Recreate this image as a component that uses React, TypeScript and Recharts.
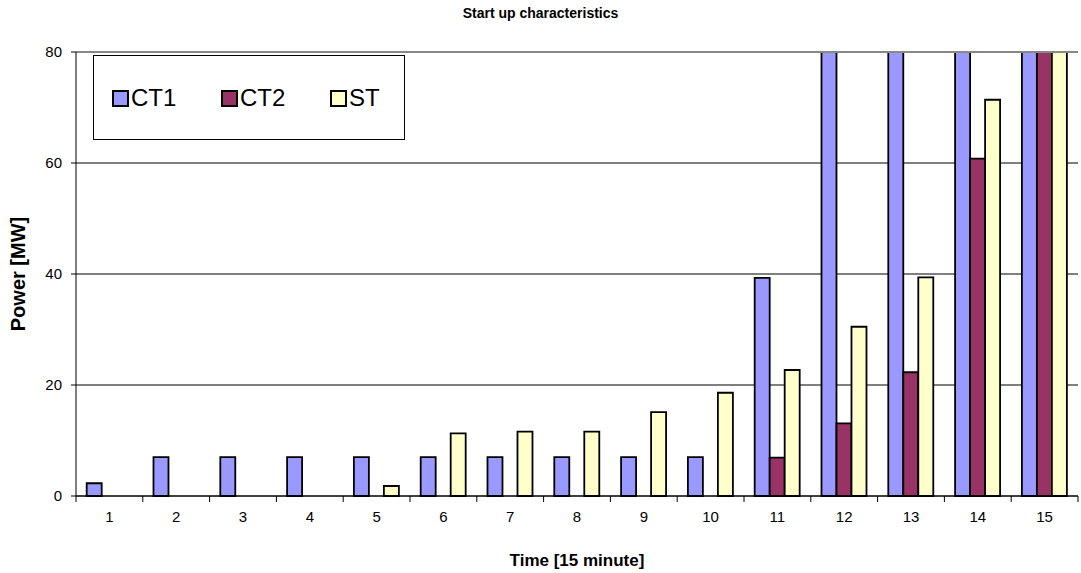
import { Bar, BarChart, CartesianGrid, ReferenceLine, XAxis, YAxis } from "recharts";

const periods = ["1", "2", "3", "4", "5", "6", "7", "8", "9", "10", "11", "12", "13", "14", "15"];
const ct1 = [2.3, 7, 7, 7, 7, 7, 7, 7, 7, 7, 39.3, 80, 80, 80, 80];
const ct2 = [0, 0, 0, 0, 0, 0, 0, 0, 0, 0, 6.9, 13.1, 22.3, 60.8, 80];
const st = [0, 0, 0, 0, 1.8, 11.3, 11.6, 11.6, 15.1, 18.6, 22.7, 30.5, 39.4, 71.4, 80];
const yTicks = [0, 20, 40, 60, 80];

const series = [
  { key: "CT1", values: ct1, color: "#9999ff" },
  { key: "CT2", values: ct2, color: "#993366" },
  { key: "ST", values: st, color: "#ffffcc" },
];

const data = periods.map((p, i) => ({ period: p, CT1: ct1[i], CT2: ct2[i], ST: st[i] }));

const font = "'Liberation Sans', Arial, sans-serif";
const plotWidth = 1002;
const halfBand = plotWidth / periods.length / 2;

function PeriodTick({ x, y, payload, index }: any) {
  const last = index === periods.length - 1;
  return (
    <g>
      <line x1={x - halfBand} x2={x - halfBand} y1={y} y2={y + 6} stroke="#000" />
      {last && <line x1={x + halfBand} x2={x + halfBand} y1={y} y2={y + 6} stroke="#000" />}
      <text x={x} y={y + 26} textAnchor="middle" fontSize={15} fontFamily={font} fill="#000">
        {payload.value}
      </text>
    </g>
  );
}

function LegendBox() {
  return (
    <div
      style={{
        position: "absolute",
        left: 93,
        top: 55,
        width: 312,
        height: 85,
        border: "1px solid #000",
        background: "#fff",
        boxSizing: "border-box",
        fontFamily: font,
        fontSize: 24,
      }}
    >
      {series.map((s, i) => (
        <div key={s.key} style={{ position: "absolute", left: 18 + i * 109, top: 28, display: "flex", alignItems: "center", lineHeight: "28px" }}>
          <span style={{ width: 13, height: 13, background: s.color, border: "2px solid #000", marginRight: 2, display: "inline-block" }} />
          {s.key}
        </div>
      ))}
    </div>
  );
}

export default function App() {
  return (
    <div style={{ position: "absolute", left: 0, top: 0, width: 1081, height: 573, background: "#fff", fontFamily: font }}>
      <BarChart
        width={1081}
        height={573}
        data={data}
        margin={{ top: 52, right: 3, bottom: 47, left: 36 }}
        barCategoryGap="16%"
        barGap={0}
      >
        <CartesianGrid vertical={false} stroke="#000" strokeWidth={1} />
        <XAxis
          dataKey="period"
          height={30}
          tick={<PeriodTick />}
          tickLine={false}
          tickSize={0}
          tickMargin={0}
          axisLine={{ stroke: "#000" }}
          interval={0}
        />
        <YAxis
          domain={[0, 80]}
          ticks={yTicks}
          width={40}
          tick={{ fontSize: 15, fill: "#000", fontFamily: font }}
          tickLine={{ stroke: "#000" }}
          tickSize={5}
          tickMargin={9}
          axisLine={{ stroke: "#000" }}
        />
        <ReferenceLine y={80} stroke="#888" strokeWidth={2} />
        {series.map((s) => (
          <Bar key={s.key} dataKey={s.key} fill={s.color} stroke="#000" strokeWidth={1.8} isAnimationActive={false} />
        ))}
      </BarChart>
      <div style={{ position: "absolute", top: 5, width: 1081, textAlign: "center", fontWeight: "bold", fontSize: 14 }}>
        Start up characteristics
      </div>
      <div
        style={{
          position: "absolute",
          left: 18,
          top: 274,
          transform: "translate(-50%, -50%) rotate(-90deg)",
          fontWeight: "bold",
          fontSize: 20,
          whiteSpace: "nowrap",
        }}
      >
        Power [MW]
      </div>
      <div style={{ position: "absolute", top: 551, left: 76, width: 1002, textAlign: "center", fontWeight: "bold", fontSize: 17 }}>
        Time [15 minute]
      </div>
      <LegendBox />
    </div>
  );
}
